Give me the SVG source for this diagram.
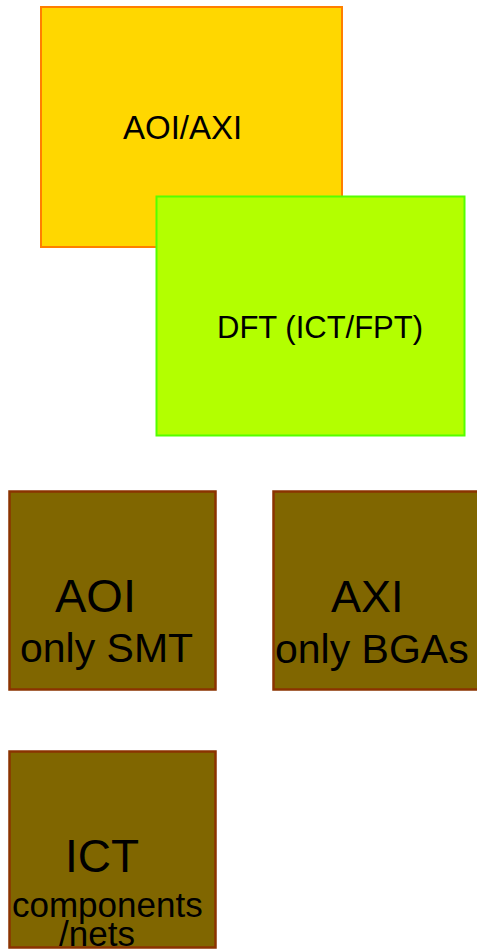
<svg xmlns="http://www.w3.org/2000/svg" width="477" height="949" viewBox="0 0 477 949">
<style>
text{font-family:"Liberation Sans",Arial,sans-serif;fill:#000}
.low{fill:#806600;stroke:#8B3300;stroke-width:2.5}
</style>
<rect width="477" height="949" fill="#fff"/>
<g id="aoi-axi">
<rect x="41" y="7" width="301" height="240" fill="#FFD700" stroke="#FF7F00" stroke-width="2"/>
<text x="123" y="139" font-size="33">AOI/AXI</text>
</g>
<g id="dft">
<rect x="156.5" y="196.5" width="308" height="239" fill="#B3FF00" stroke="#55FF00" stroke-width="2"/>
<text x="217" y="338" font-size="31">DFT (ICT/FPT)</text>
</g>
<g id="aoi-smt">
<rect class="low" x="9.5" y="491.5" width="206" height="198"/>
<text x="55" y="612" font-size="47">AOI</text>
<text x="20" y="662" font-size="41">only SMT</text>
</g>
<g id="axi-bga">
<rect class="low" x="273.5" y="491.5" width="208" height="198"/>
<text x="331" y="612" font-size="45">AXI</text>
<text x="275" y="663" font-size="41">only BGAs</text>
</g>
<g id="ict">
<rect class="low" x="9.5" y="751.5" width="206" height="196"/>
<text x="65" y="872" font-size="46">ICT</text>
<text x="12" y="917" font-size="35">components</text>
<text x="59" y="946" font-size="35">/nets</text>
</g>
<g id="connectors"/>
</svg>
